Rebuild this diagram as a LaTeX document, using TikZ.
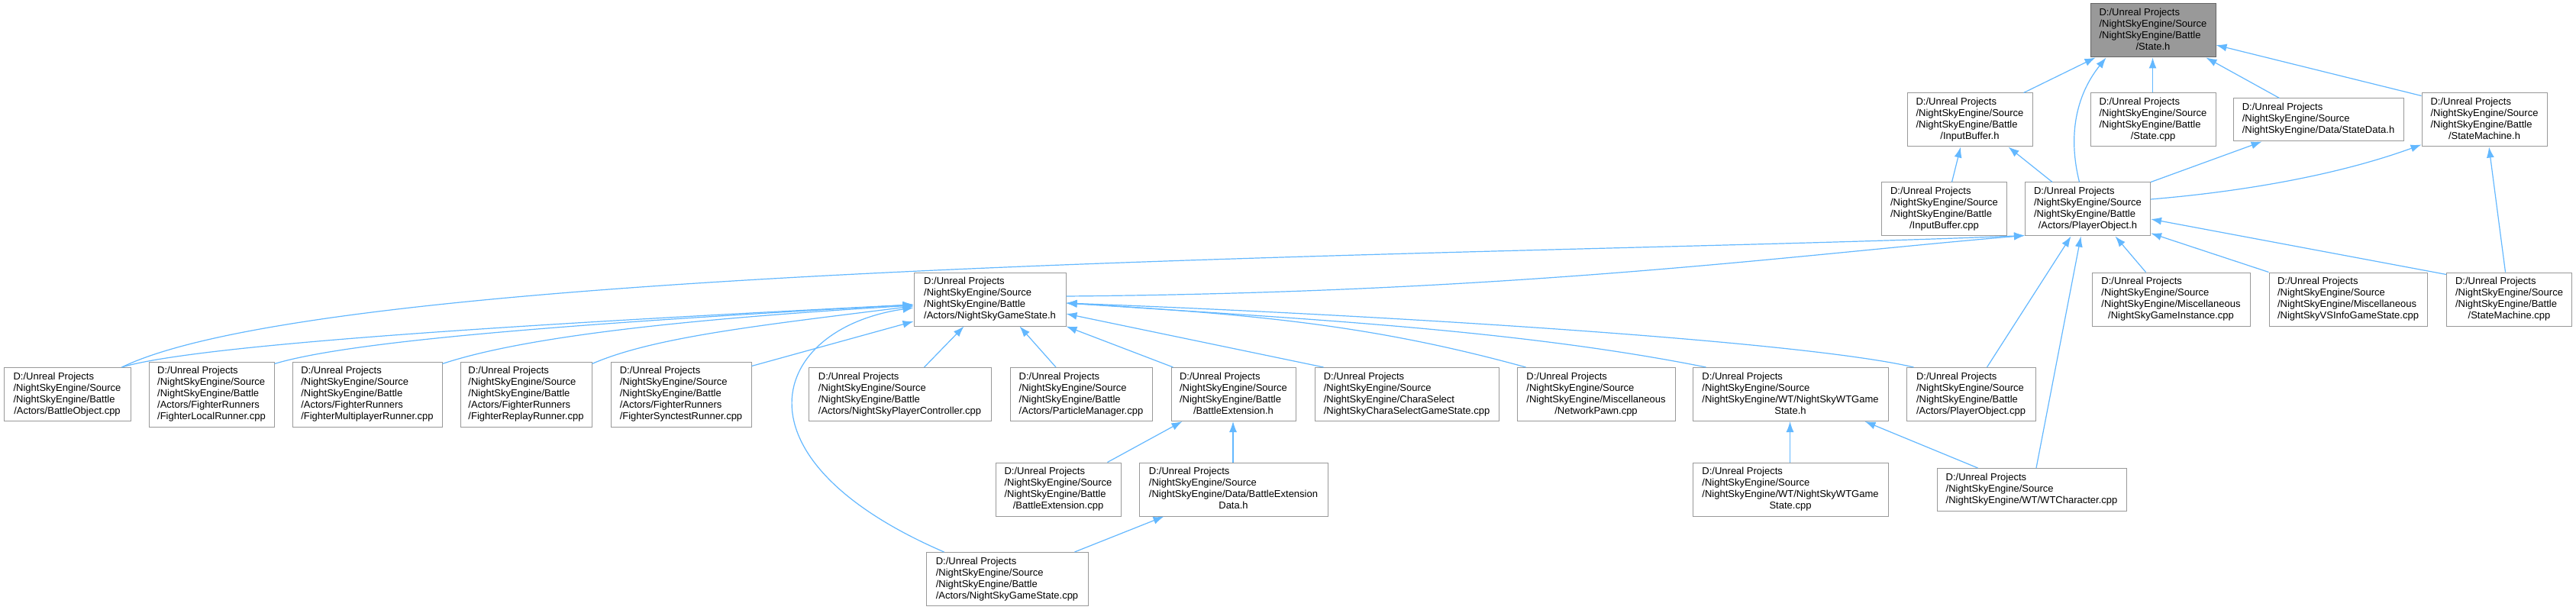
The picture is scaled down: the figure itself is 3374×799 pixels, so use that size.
\documentclass[tikz,border=0pt]{standalone}
\usepackage{fontspec}
\setmainfont{Liberation Sans}
\usetikzlibrary{arrows.meta}
\definecolor{edgeblue}{HTML}{63B8FF}
\definecolor{boxgray}{HTML}{999999}
\definecolor{rootline}{HTML}{666666}
\newcommand\dxfont{\fontsize{13}{15}\selectfont\setbox\strutbox\hbox{\vrule height 10.5pt depth 4.5pt width 0pt}}
\newcommand\dxl[2]{\begin{tabular}{@{}l@{}}#1\\\multicolumn{1}{@{}c@{}}{#2}\end{tabular}}
\newcommand\pre{D:/Unreal Projects\\/NightSkyEngine/Source}
\begin{document}
\begin{tikzpicture}[x=1pt,y=-1pt,
  file/.style={draw=boxgray, line width=1pt, fill=white, inner sep=0pt, minimum height=70pt, font=\dxfont},
  rootfile/.style={file, fill=boxgray, draw=rootline},
  dep/.style={draw=edgeblue, line width=1.2pt, -{Latex[length=14pt,width=10pt]}}]
\fill[white] (0,0) rectangle (3374,799);
\useasboundingbox (0,0) rectangle (3374,799);

% row 0
\node[rootfile, minimum width=164pt] (state_h) at (2820,40) {\dxl{\pre\\/NightSkyEngine/Battle}{/State.h}};
% row 1
\node[file, minimum width=164pt] (inputbuffer_h) at (2580,157) {\dxl{\pre\\/NightSkyEngine/Battle}{/InputBuffer.h}};
\node[file, minimum width=164pt] (state_cpp) at (2820,157) {\dxl{\pre\\/NightSkyEngine/Battle}{/State.cpp}};
\node[file, minimum width=223pt, minimum height=56pt] (statedata_h) at (3036.5,157) {\dxl{\pre}{/NightSkyEngine/Data/StateData.h}};
\node[file, minimum width=164pt] (statemachine_h) at (3254,157) {\dxl{\pre\\/NightSkyEngine/Battle}{/StateMachine.h}};
% row 2
\node[file, minimum width=164pt] (inputbuffer_cpp) at (2546.5,274) {\dxl{\pre\\/NightSkyEngine/Battle}{/InputBuffer.cpp}};
\node[file, minimum width=164pt] (playerobject_h) at (2734.5,274) {\dxl{\pre\\/NightSkyEngine/Battle}{/Actors/PlayerObject.h}};
% row 3
\node[file, minimum width=199pt] (gamestate_h) at (1296.5,392) {\dxl{\pre\\/NightSkyEngine/Battle}{/Actors/NightSkyGameState.h}};
\node[file, minimum width=207pt] (gameinstance_cpp) at (2843.5,392) {\dxl{\pre\\/NightSkyEngine/Miscellaneous}{/NightSkyGameInstance.cpp}};
\node[file, minimum width=207pt] (vsinfo_cpp) at (3075.5,392) {\dxl{\pre\\/NightSkyEngine/Miscellaneous}{/NightSkyVSInfoGameState.cpp}};
\node[file, minimum width=164pt] (statemachine_cpp) at (3286.5,392) {\dxl{\pre\\/NightSkyEngine/Battle}{/StateMachine.cpp}};
% row 4
\node[file, minimum width=166pt] (battleobject_cpp) at (88,516.5) {\dxl{\pre\\/NightSkyEngine/Battle}{/Actors/BattleObject.cpp}};
\node[file, minimum width=164pt, minimum height=85pt] (localrunner_cpp) at (277,516.5) {\dxl{\pre\\/NightSkyEngine/Battle\\/Actors/FighterRunners}{/FighterLocalRunner.cpp}};
\node[file, minimum width=196pt, minimum height=85pt] (multiplayer_cpp) at (481,516.5) {\dxl{\pre\\/NightSkyEngine/Battle\\/Actors/FighterRunners}{/FighterMultiplayerRunner.cpp}};
\node[file, minimum width=172pt, minimum height=85pt] (replay_cpp) at (689,516.5) {\dxl{\pre\\/NightSkyEngine/Battle\\/Actors/FighterRunners}{/FighterReplayRunner.cpp}};
\node[file, minimum width=184pt, minimum height=85pt] (synctest_cpp) at (892,516.5) {\dxl{\pre\\/NightSkyEngine/Battle\\/Actors/FighterRunners}{/FighterSynctestRunner.cpp}};
\node[file, minimum width=239pt] (playercontroller_cpp) at (1178.5,516.5) {\dxl{\pre\\/NightSkyEngine/Battle}{/Actors/NightSkyPlayerController.cpp}};
\node[file, minimum width=186pt] (particlemanager_cpp) at (1416,516.5) {\dxl{\pre\\/NightSkyEngine/Battle}{/Actors/ParticleManager.cpp}};
\node[file, minimum width=163pt] (battleext_h) at (1615.5,516.5) {\dxl{\pre\\/NightSkyEngine/Battle}{/BattleExtension.h}};
\node[file, minimum width=241pt] (charaselect_cpp) at (1842.5,516.5) {\dxl{\pre\\/NightSkyEngine/CharaSelect}{/NightSkyCharaSelectGameState.cpp}};
\node[file, minimum width=207pt] (networkpawn_cpp) at (2090.5,516.5) {\dxl{\pre\\/NightSkyEngine/Miscellaneous}{/NetworkPawn.cpp}};
\node[file, minimum width=256pt] (wtgamestate_h) at (2345,516.5) {\dxl{\pre\\/NightSkyEngine/WT/NightSkyWTGame}{State.h}};
\node[file, minimum width=169pt] (playerobject_cpp) at (2581.5,516.5) {\dxl{\pre\\/NightSkyEngine/Battle}{/Actors/PlayerObject.cpp}};
% row 5
\node[file, minimum width=164pt] (battleext_cpp) at (1386,641) {\dxl{\pre\\/NightSkyEngine/Battle}{/BattleExtension.cpp}};
\node[file, minimum width=247pt] (battleextdata_h) at (1615.5,641) {\dxl{\pre\\/NightSkyEngine/Data/BattleExtension}{Data.h}};
\node[file, minimum width=256pt] (wtgamestate_cpp) at (2345,641) {\dxl{\pre\\/NightSkyEngine/WT/NightSkyWTGame}{State.cpp}};
\node[file, minimum width=248pt, minimum height=56pt] (wtcharacter_cpp) at (2661,641.5) {\dxl{\pre}{/NightSkyEngine/WT/WTCharacter.cpp}};
% row 6
\node[file, minimum width=212pt] (gamestate_cpp) at (1319,758.5) {\dxl{\pre\\/NightSkyEngine/Battle}{/Actors/NightSkyGameState.cpp}};

% edges
\draw[dep] ([xshift=-12pt]inputbuffer_h.north east) -- ([xshift=7pt]state_h.south west);
\draw[dep] ([xshift=-11pt]playerobject_h.north) .. controls +(-15,-60) and +(-40,50) .. ([xshift=21pt]state_h.south west);
\draw[dep] ([xshift=-0.5pt]state_cpp.north) -- ([xshift=-0.5pt]state_h.south);
\draw[dep] ([xshift=61pt]statedata_h.north west) -- ([xshift=-13pt]state_h.south east);
\draw[dep] ([yshift=-4pt]statemachine_h.north west) -- ([yshift=-19pt]state_h.east);
\draw[dep] ([xshift=10pt]inputbuffer_cpp.north) -- ([xshift=-12pt]inputbuffer_h.south);
\draw[dep] ([xshift=36pt]playerobject_h.north west) -- ([xshift=-32pt]inputbuffer_h.south east);
\draw[dep] (playerobject_h.north east) -- ([xshift=38pt]statedata_h.south west);
\draw[dep] ([yshift=13pt]playerobject_h.east) .. controls +(120,-10) and +(-110,40) .. ([yshift=3pt]statemachine_h.south west);
\draw[dep] ([xshift=-5pt]statemachine_cpp.north) -- ([xshift=6pt]statemachine_h.south);
\draw[dep] ([xshift=71pt]gameinstance_cpp.north west) -- ([xshift=36pt]playerobject_h.south);
\draw[dep] (vsinfo_cpp.north west) -- ([yshift=4pt]playerobject_h.south east);
\draw[dep] ([yshift=-3pt]statemachine_cpp.north west) -- ([yshift=-13pt]playerobject_h.east);
\draw[dep] ([xshift=21pt]playerobject_cpp.north) -- ([xshift=-22pt]playerobject_h.south);
\draw[dep] ([xshift=6pt]wtcharacter_cpp.north) -- ([xshift=-9pt]playerobject_h.south);
\draw[dep] ([yshift=4pt]gamestate_h.east) .. controls +(600,-5) and +(-300,25) .. ([yshift=1pt]playerobject_h.south west);
\draw[dep] ([xshift=-12pt]battleobject_cpp.north east) .. controls +(291,-141) and +(-653,27) .. ([yshift=1pt]playerobject_h.south west);
\draw[dep] ([xshift=-12pt]battleobject_cpp.north east) .. controls +(100,-30) and +(-500,25) .. ([yshift=-7pt]gamestate_h.west);
\draw[dep] ([yshift=-3pt]localrunner_cpp.north east) .. controls +(100,-30) and +(-450,25) .. ([yshift=-7pt]gamestate_h.west);
\draw[dep] ([yshift=-3pt]multiplayer_cpp.north east) .. controls +(120,-40) and +(-250,15) .. ([yshift=-8pt]gamestate_h.west);
\draw[dep] ([yshift=-3pt]replay_cpp.north east) .. controls +(80,-35) and +(-200,25) .. ([yshift=-9pt]gamestate_h.west);
\draw[dep] ([yshift=-6pt]synctest_cpp.north east) -- ([yshift=-29pt]gamestate_h.west);
\draw[dep] ([xshift=24pt]gamestate_cpp.north west) .. controls +(-287,-124) and +(-187,27) .. ([yshift=-11pt]gamestate_h.west);
\draw[dep] ([xshift=32pt]playercontroller_cpp.north) -- ([xshift=-34pt]gamestate_h.south);
\draw[dep] ([xshift=-33pt]particlemanager_cpp.north) -- ([xshift=39pt]gamestate_h.south);
\draw[dep] ([xshift=3pt]battleext_h.north west) -- (gamestate_h.south east);
\draw[dep] ([xshift=12pt]charaselect_cpp.north west) -- ([yshift=-19pt]gamestate_h.east);
\draw[dep] ([xshift=12pt]networkpawn_cpp.north west) .. controls +(-200,-55) and +(250,15) .. ([yshift=-5pt]gamestate_h.east);
\draw[dep] ([xshift=18pt]wtgamestate_h.north west) .. controls +(-250,-50) and +(300,20) .. ([yshift=-5pt]gamestate_h.east);
\draw[dep] ([xshift=10pt]playerobject_cpp.north west) .. controls +(-150,-35) and +(400,15) .. ([yshift=-5pt]gamestate_h.east);
\draw[dep] ([xshift=-18pt]battleext_cpp.north east) -- ([xshift=15pt]battleext_h.south west);
\draw[dep] ([xshift=-0.5pt]battleextdata_h.north) -- ([xshift=-0.5pt]battleext_h.south);
\draw[dep] ([xshift=-18pt]gamestate_cpp.north east) -- ([xshift=33pt]battleextdata_h.south west);
\draw[dep] ([xshift=-0.5pt]wtgamestate_cpp.north) -- ([xshift=-0.5pt]wtgamestate_h.south);
\draw[dep] ([xshift=54pt]wtcharacter_cpp.north west) -- ([xshift=-31pt]wtgamestate_h.south east);
\end{tikzpicture}
\end{document}
